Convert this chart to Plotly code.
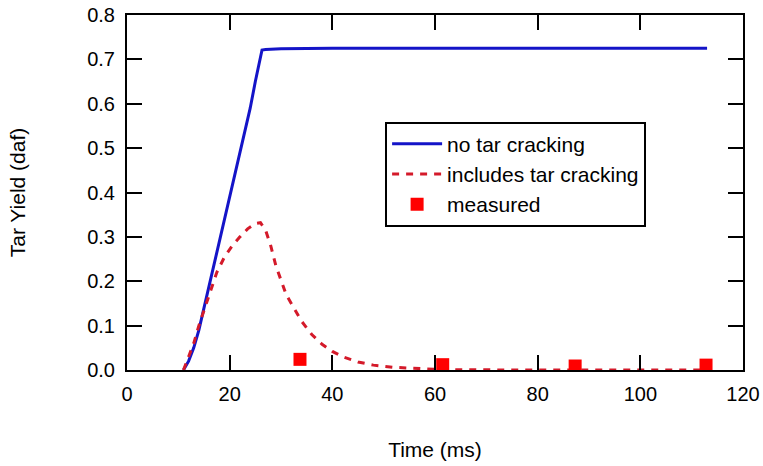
import plotly.graph_objects as go

# no tar cracking (model)
t_model = [11, 12, 13, 14, 15, 16, 18, 20, 22, 24, 25, 26, 26.3, 27, 30, 40, 60, 80, 100, 113]
y_model = [0.0, 0.02, 0.05, 0.09, 0.14, 0.19, 0.29, 0.39, 0.49, 0.59, 0.65, 0.71, 0.721, 0.722, 0.724, 0.725, 0.725, 0.725, 0.725, 0.725]

# includes tar cracking (model)
t_crack = [11, 12, 13, 14, 15, 16, 17.5, 19, 20.5, 22, 23.5, 25, 26, 27, 28, 29, 30, 31, 32.5, 34, 36, 38, 40, 42, 45, 48, 52, 56, 60, 65, 70, 80, 90, 100, 113]
y_crack = [0.0, 0.03, 0.06, 0.1, 0.135, 0.17, 0.22, 0.255, 0.28, 0.3, 0.318, 0.33, 0.332, 0.315, 0.28, 0.235, 0.2, 0.17, 0.14, 0.11, 0.08, 0.058, 0.042, 0.03, 0.018, 0.011, 0.006, 0.003, 0.0015, 0.0005, 0.0, 0.0, 0.0, 0.0, 0.0]

# measured
t_meas = [33.7, 61.5, 87.3, 112.8]
y_meas = [0.024, 0.012, 0.009, 0.011]

FONT = "Arial, Liberation Sans"

fig = go.Figure()
fig.add_trace(go.Scatter(x=t_model, y=y_model, mode="lines", name="no tar cracking",
                         line=dict(color="#1414c8", width=3)))
fig.add_trace(go.Scatter(x=t_crack, y=y_crack, mode="lines", name="includes tar cracking",
                         line=dict(color="#d41a2a", width=3, dash="7px,7px")))
fig.add_trace(go.Scatter(x=t_meas, y=y_meas, mode="markers", name="measured",
                         marker=dict(color="#ff0000", symbol="square", size=13)))

axis_common = dict(showline=True, linecolor="black", linewidth=2, mirror="ticks",
                   ticks="inside", ticklen=15, tickwidth=1.5, tickcolor="black",
                   showgrid=False, zeroline=False, automargin=False,
                   tickfont=dict(family=FONT, size=20, color="black"))

fig.update_xaxes(range=[0, 120], dtick=20, tick0=0, ticklabelstandoff=5,
                 title=dict(text="Time (ms)", font=dict(family=FONT, size=21, color="black"), standoff=38),
                 **axis_common)
fig.update_yaxes(range=[0, 0.8], dtick=0.1, tick0=0, tickformat=".1f", ticklabelstandoff=6,
                 title=dict(text="Tar Yield (daf)", font=dict(family=FONT, size=21, color="black"), standoff=56),
                 **axis_common)

fig.update_layout(
    width=763, height=466,
    margin=dict(l=127, r=20, t=15, b=96, autoexpand=False),
    paper_bgcolor="white", plot_bgcolor="white",
    showlegend=True,
    legend=dict(x=0.419, y=0.70, xanchor="left", yanchor="top",
                bgcolor="white", bordercolor="black", borderwidth=2,
                font=dict(family=FONT, size=21, color="black"),
                tracegroupgap=0, itemwidth=50),
)

fig.write_html("out.html")
